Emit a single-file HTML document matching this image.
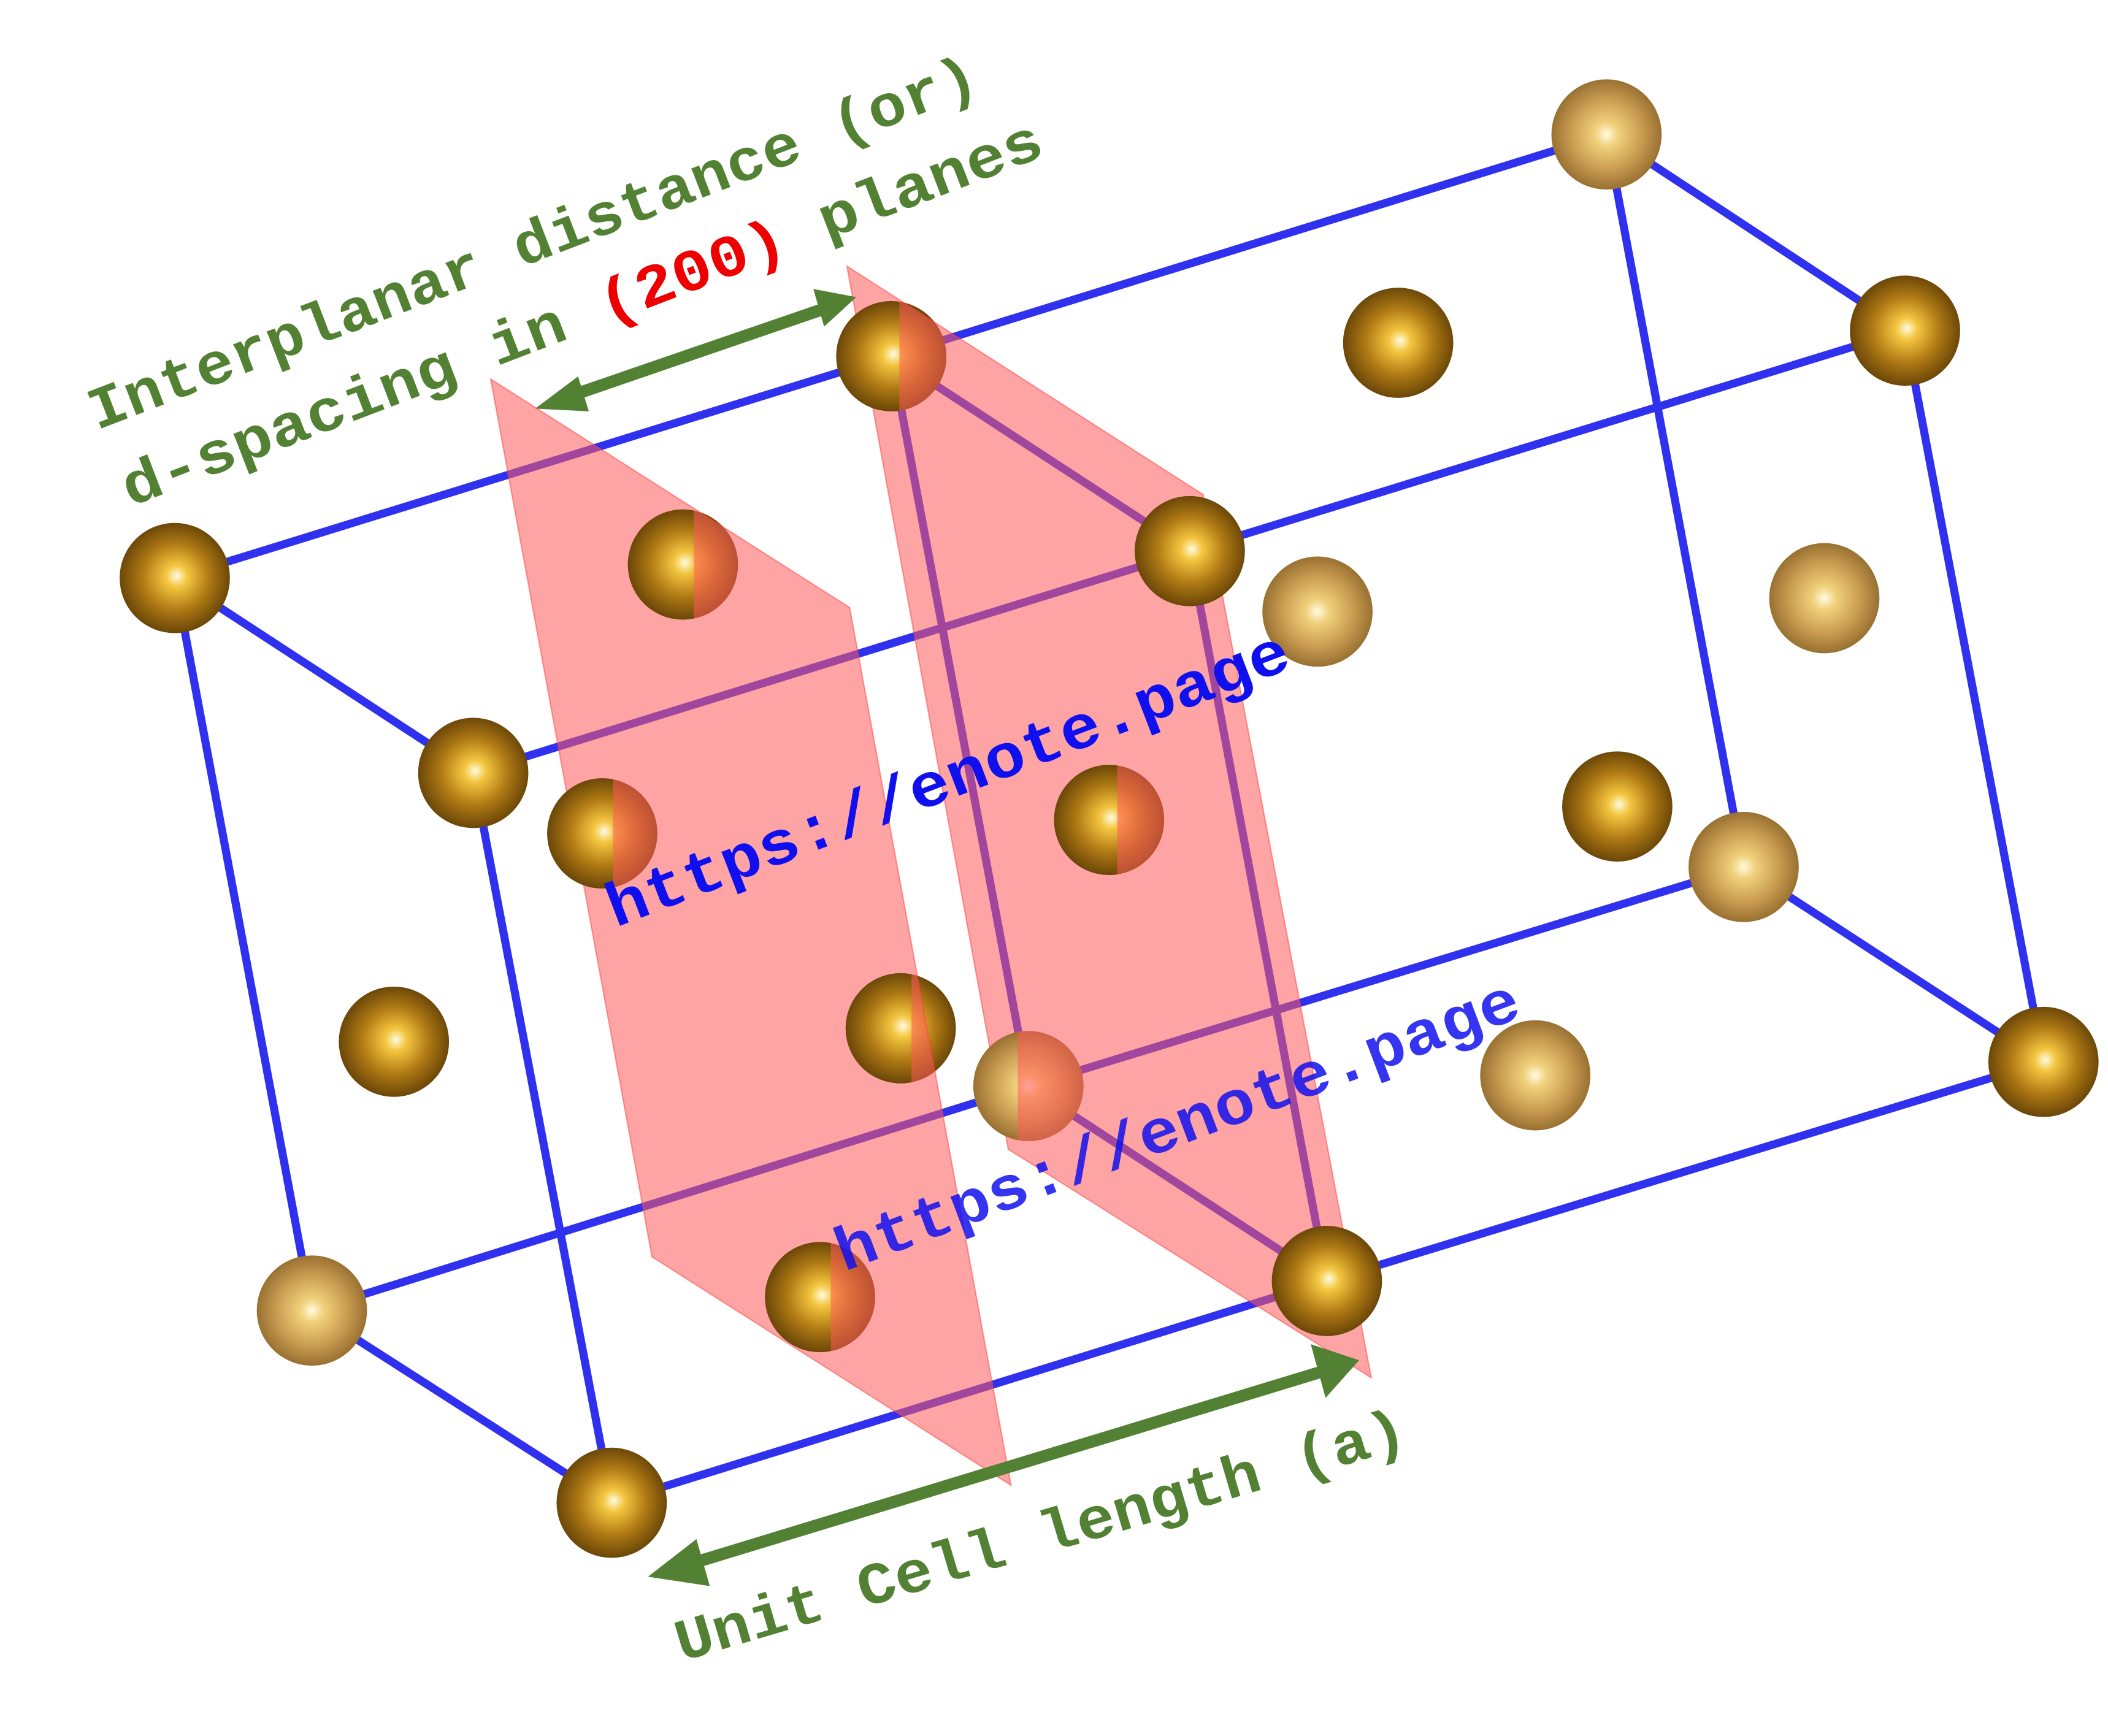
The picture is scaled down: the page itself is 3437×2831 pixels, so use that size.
<!DOCTYPE html>
<html><head><style>html,body{margin:0;padding:0;background:#fff}svg{display:block}</style></head>
<body>
<svg width="3437" height="2831" viewBox="0 0 1568 1291.5" xmlns="http://www.w3.org/2000/svg">
<defs>
<radialGradient id="g" cx="0.5" cy="0.5" r="0.55" fx="0.52" fy="0.48">
<stop offset="0" stop-color="#fffbe0"/><stop offset="0.18" stop-color="#f3c640"/><stop offset="0.55" stop-color="#b07a14"/><stop offset="1" stop-color="#5a3a05"/></radialGradient>
<radialGradient id="gl" cx="0.5" cy="0.5" r="0.55">
<stop offset="0" stop-color="#fffbe0"/><stop offset="0.2" stop-color="#f0d07a"/><stop offset="0.6" stop-color="#c89a50"/><stop offset="1" stop-color="#8a6428"/></radialGradient>
<clipPath id="c1"><rect x="460" y="370" width="56" height="100"/></clipPath>
<clipPath id="c2"><rect x="400" y="570" width="56" height="100"/></clipPath>
<clipPath id="c3"><rect x="622" y="715" width="56" height="100"/></clipPath>
<clipPath id="c4"><rect x="562" y="915" width="56" height="100"/></clipPath>
<clipPath id="c5"><rect x="615" y="215" width="54" height="100"/></clipPath>
<clipPath id="c6"><rect x="777" y="560" width="54" height="100"/></clipPath>
<clipPath id="c7"><rect x="717" y="758" width="40" height="100"/></clipPath>
</defs>
<g stroke="#1a1aee" stroke-width="6" stroke-linecap="round" opacity="0.9">
<line x1="130" y1="430" x2="352" y2="575"/><line x1="130" y1="430" x2="232" y2="975"/>
<line x1="352" y1="575" x2="455" y2="1118"/><line x1="232" y1="975" x2="455" y2="1118"/>
<line x1="130" y1="430" x2="663" y2="265"/><line x1="352" y1="575" x2="885" y2="410"/>
<line x1="232" y1="975" x2="765" y2="808"/><line x1="455" y1="1118" x2="987" y2="953"/>
<line x1="663" y1="265" x2="885" y2="410"/><line x1="663" y1="265" x2="765" y2="808"/>
<line x1="885" y1="410" x2="987" y2="953"/><line x1="765" y1="808" x2="987" y2="953"/>
<line x1="663" y1="265" x2="1195" y2="100"/><line x1="885" y1="410" x2="1417" y2="246"/>
<line x1="765" y1="808" x2="1297" y2="645"/><line x1="987" y1="953" x2="1520" y2="790"/>
<line x1="1195" y1="100" x2="1417" y2="246"/><line x1="1195" y1="100" x2="1297" y2="645"/>
<line x1="1417" y1="246" x2="1520" y2="790"/><line x1="1297" y1="645" x2="1520" y2="790"/>
</g>
<g>
<circle cx="1195" cy="100" r="41" fill="url(#gl)"/><circle cx="1040" cy="255" r="41" fill="url(#g)"/>
<circle cx="1417" cy="246" r="41" fill="url(#g)"/><circle cx="980" cy="455" r="41" fill="url(#gl)"/>
<circle cx="1357" cy="445" r="41" fill="url(#gl)"/><circle cx="1203" cy="600" r="41" fill="url(#g)"/>
<circle cx="1297" cy="645" r="41" fill="url(#gl)"/><circle cx="1142" cy="800" r="41" fill="url(#gl)"/>
<circle cx="1520" cy="790" r="41" fill="url(#g)"/>
<circle cx="130" cy="430" r="41" fill="url(#g)"/><circle cx="352" cy="575" r="41" fill="url(#g)"/>
<circle cx="293" cy="775" r="41" fill="url(#g)"/><circle cx="232" cy="975" r="41" fill="url(#gl)"/>
<circle cx="455" cy="1118" r="41" fill="url(#g)"/>
<circle cx="508" cy="420" r="41" fill="url(#g)"/><circle cx="448" cy="620" r="41" fill="url(#g)"/>
<circle cx="610" cy="965" r="41" fill="url(#g)"/><circle cx="670" cy="765" r="41" fill="url(#g)"/>
<circle cx="663" cy="265" r="41" fill="url(#g)"/><circle cx="765" cy="808" r="41" fill="url(#gl)"/>
<circle cx="825" cy="610" r="41" fill="url(#g)"/>
</g>
<polygon points="365,282 632,452 752,1105 485,935" fill="#ff5a5a" fill-opacity="0.55" stroke="#ff4040" stroke-opacity="0.5"/>
<polygon points="630,198 895,368 1020,1025 750,855" fill="#ff5a5a" fill-opacity="0.55" stroke="#ff4040" stroke-opacity="0.5"/>
<g>
<circle cx="508" cy="420" r="41" fill="url(#g)" clip-path="url(#c1)"/>
<circle cx="448" cy="620" r="41" fill="url(#g)" clip-path="url(#c2)"/>
<circle cx="670" cy="765" r="41" fill="url(#g)" clip-path="url(#c3)"/>
<circle cx="610" cy="965" r="41" fill="url(#g)" clip-path="url(#c4)"/>
<circle cx="663" cy="265" r="41" fill="url(#g)" clip-path="url(#c5)"/>
<circle cx="825" cy="610" r="41" fill="url(#g)" clip-path="url(#c6)"/>
<circle cx="765" cy="808" r="41" fill="url(#gl)" clip-path="url(#c7)"/>
<circle cx="885" cy="410" r="41" fill="url(#g)"/><circle cx="987" cy="953" r="41" fill="url(#g)"/>
</g>
<g stroke="#528133" stroke-width="9" fill="#528133">
<line x1="420" y1="296" x2="615" y2="229"/>
<polygon points="398,304 430,280 438,306" stroke="none"/>
<polygon points="637,221 605,215 613,243" stroke="none"/>
<line x1="505" y1="1166" x2="988" y2="1019"/>
<polygon points="482,1173 518,1145 528,1180" stroke="none"/>
<polygon points="1011,1012 975,1000 986,1040" stroke="none"/>
</g>
<g font-family="Liberation Mono, monospace" font-weight="bold">
<text transform="translate(72,320) rotate(-21)" font-size="44" fill="#528133" textLength="705" lengthAdjust="spacingAndGlyphs">Interplanar distance (or)</text>
<text transform="translate(97,377) rotate(-21)" font-size="44" fill="#528133" textLength="730" lengthAdjust="spacingAndGlyphs">d-spacing in <tspan fill="#ee0000">(200)</tspan> planes</text>
<text transform="translate(507,1236) rotate(-16.5)" font-size="44" fill="#528133" textLength="565" lengthAdjust="spacingAndGlyphs">Unit Cell length (a)</text>
<text transform="translate(458,690) rotate(-21)" font-size="46" fill="#1010ee" textLength="540" lengthAdjust="spacingAndGlyphs">https://enote.page</text>
<text transform="translate(628,946) rotate(-20.6)" font-size="46" fill="#1010ee" fill-opacity="0.85" textLength="540" lengthAdjust="spacingAndGlyphs">https://enote.page</text>
</g>
</svg>
</body></html>
